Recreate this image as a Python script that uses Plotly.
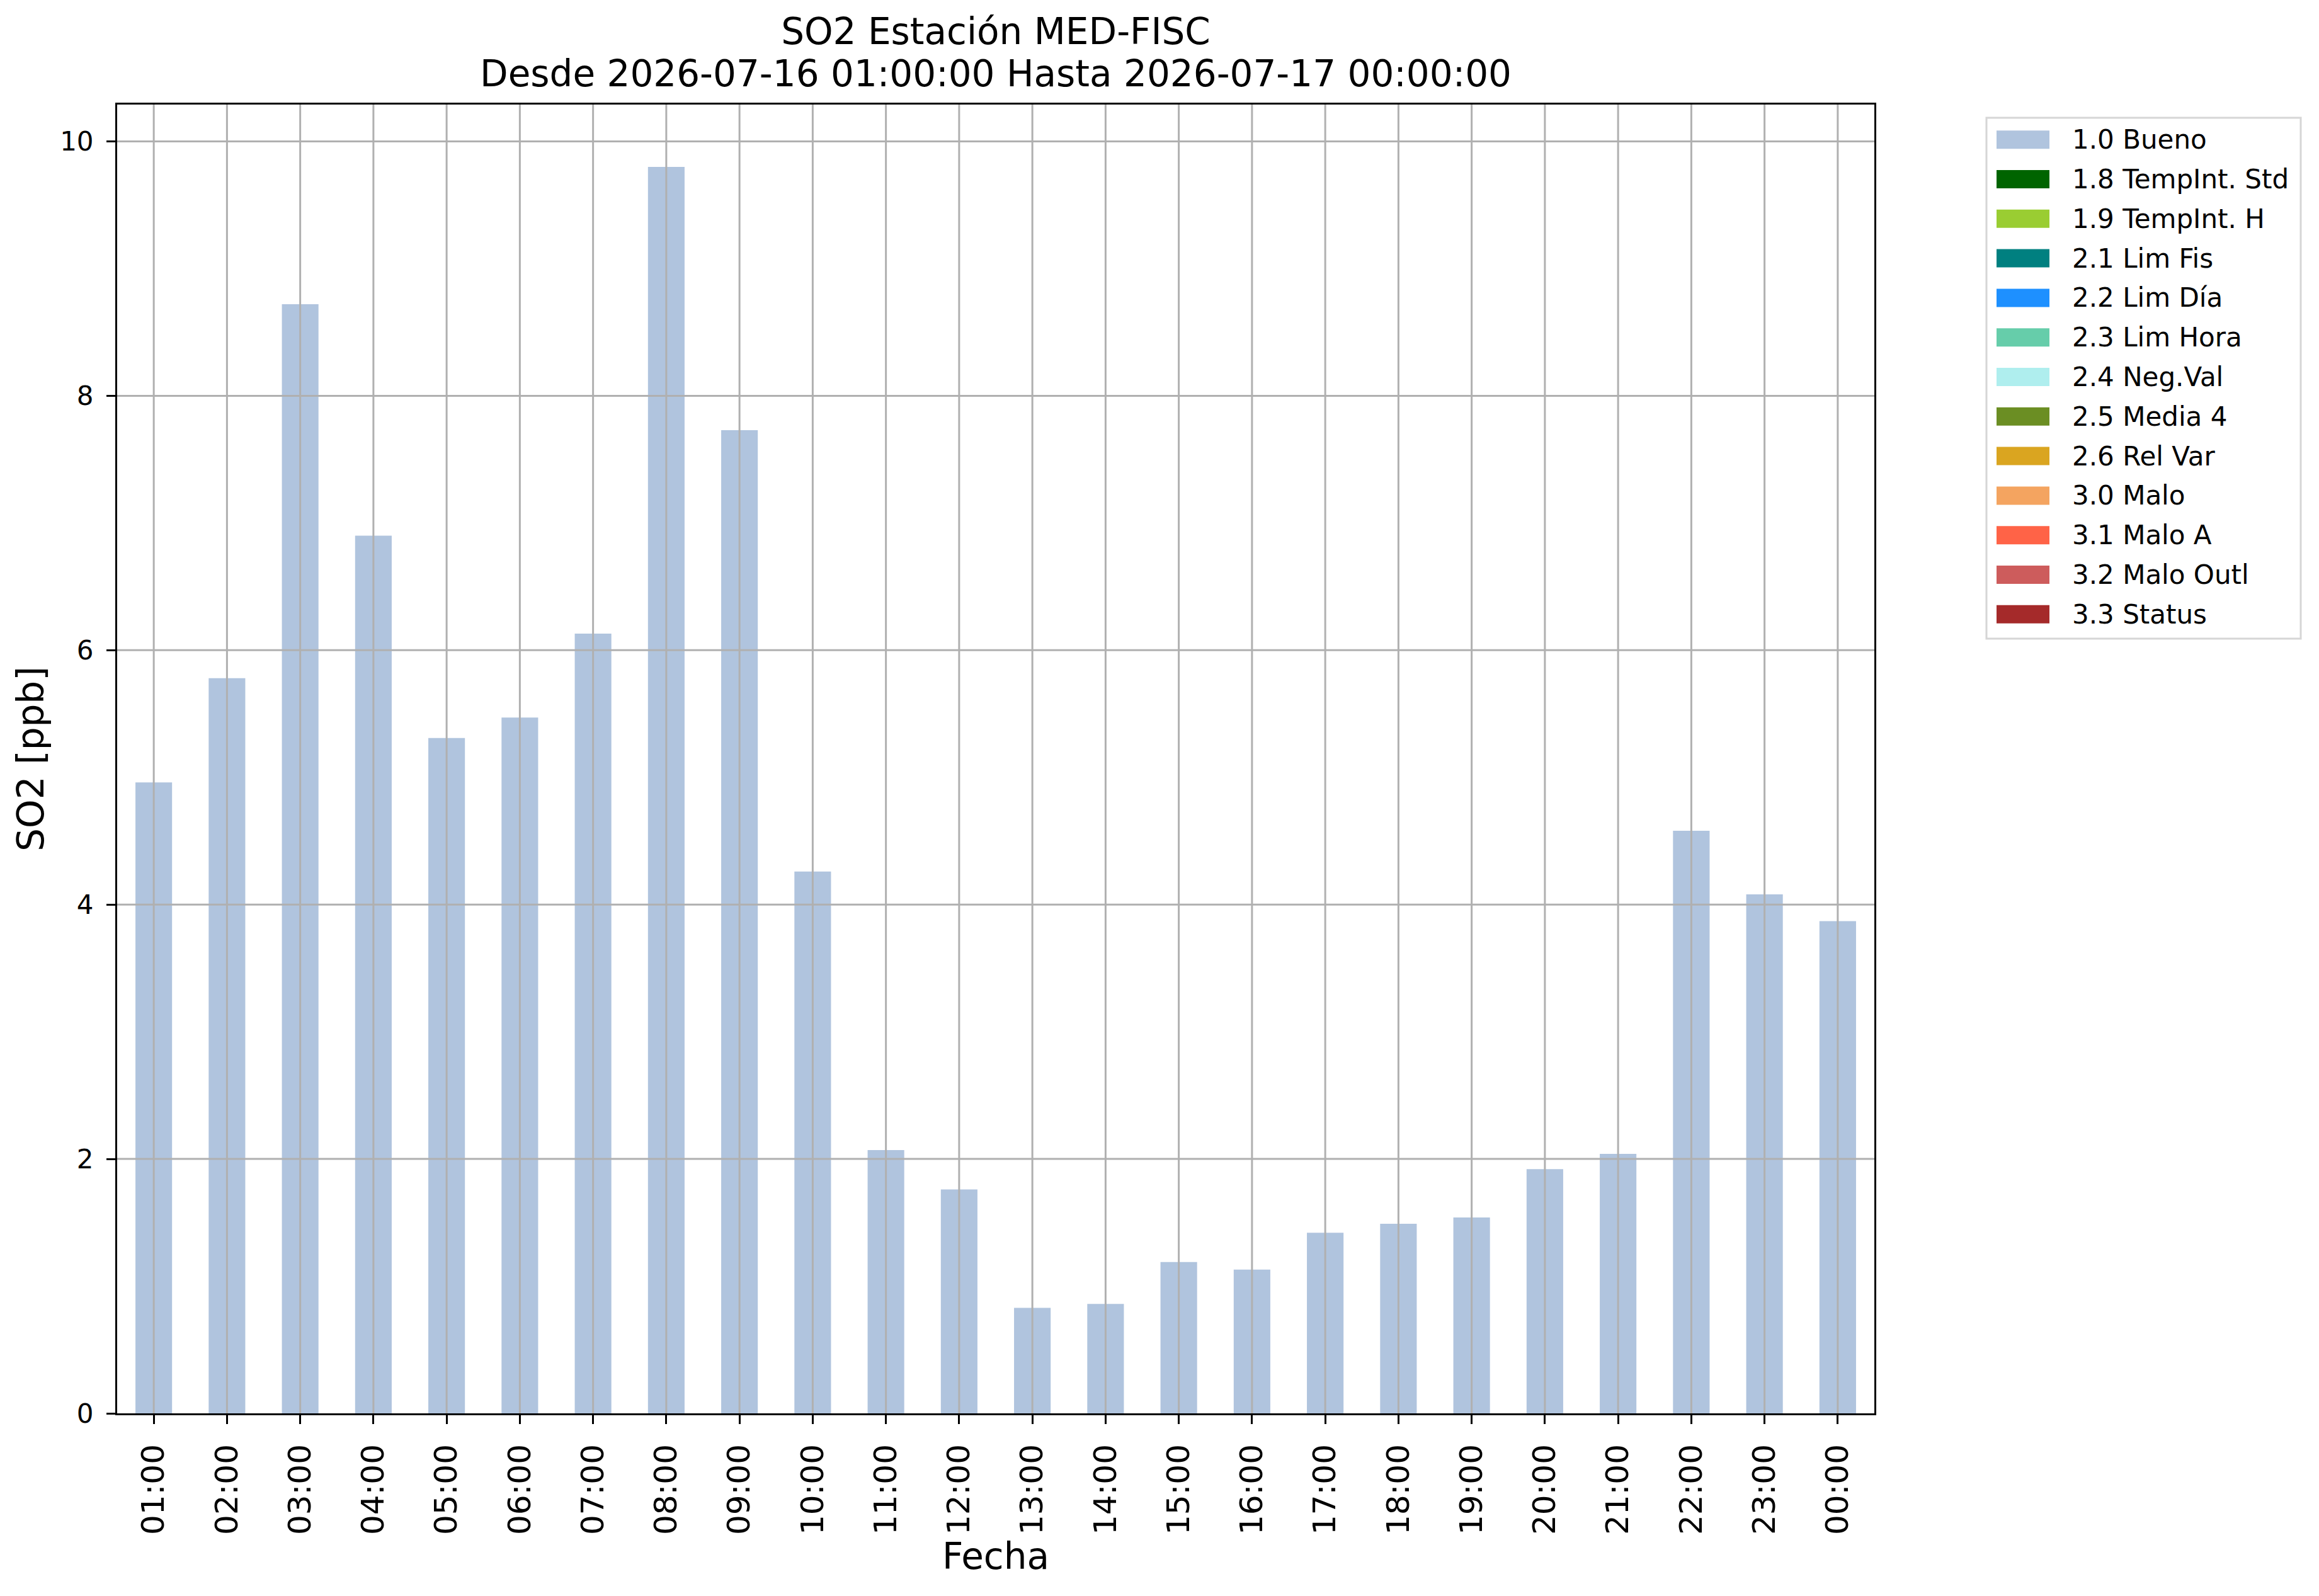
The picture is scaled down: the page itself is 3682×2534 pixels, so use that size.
import plotly.graph_objects as go

# ---------------- data ----------------
hours = ["01:00", "02:00", "03:00", "04:00", "05:00", "06:00", "07:00", "08:00",
         "09:00", "10:00", "11:00", "12:00", "13:00", "14:00", "15:00", "16:00",
         "17:00", "18:00", "19:00", "20:00", "21:00", "22:00", "23:00", "00:00"]
so2_bueno = [4.96, 5.78, 8.72, 6.90, 5.31, 5.47, 6.13, 9.80,
             7.73, 4.26, 2.07, 1.76, 0.83, 0.86, 1.19, 1.13,
             1.42, 1.49, 1.54, 1.92, 2.04, 4.58, 4.08, 3.87]
y_ticks = [0, 2, 4, 6, 8, 10]

legend_labels = ["1.0 Bueno", "1.8 TempInt. Std", "1.9 TempInt. H", "2.1 Lim Fis",
                 "2.2 Lim Día", "2.3 Lim Hora", "2.4 Neg.Val", "2.5 Media 4",
                 "2.6 Rel Var", "3.0 Malo", "3.1 Malo A", "3.2 Malo Outl", "3.3 Status"]
legend_colors = ["#B0C4DE", "#006400", "#9ACD32", "#008080", "#1E90FF", "#66CDAA",
                 "#AFEEEE", "#6B8E23", "#DAA520", "#F4A460", "#FF6347", "#CD5C5C",
                 "#A52A2A"]

title_line1 = "SO2 Estación MED-FISC"
title_line2 = "Desde 2026-07-16 01:00:00 Hasta 2026-07-17 00:00:00"

# ---------------- layout constants (page pixels) ----------------
PAGE_W, PAGE_H = 3682, 2534
OFF = 8                      # default body margin of the html page
W, H = PAGE_W - 2 * OFF, PAGE_H - 2 * OFF
L, R, T, B = 186, 2976, 166, 2244   # plot area in page pixels
FONT = "DejaVu Sans"
GRID = "#b0b0b0"


def px2x(px):
    return (px - L) / (R - L)


def py2y(py):
    return (B - py) / (B - T)


fig = go.Figure()
fig.add_trace(go.Bar(
    x=hours, y=so2_bueno, name=legend_labels[0],
    marker=dict(color=legend_colors[0], line=dict(width=0)),
    width=0.5, showlegend=False,
))

shapes = []
# grid lines drawn above the bars (as in the reference)
for h in hours:
    shapes.append(dict(type="line", xref="x", yref="paper", x0=h, x1=h, y0=0, y1=1,
                       line=dict(color=GRID, width=3), layer="above"))
for v in y_ticks[1:]:
    shapes.append(dict(type="line", xref="paper", yref="y", x0=0, x1=1, y0=v, y1=v,
                       line=dict(color=GRID, width=3), layer="above"))

# legend frame
shapes.append(dict(type="rect", xref="paper", yref="paper",
                   x0=px2x(3154), x1=px2x(3653), y0=py2y(1014), y1=py2y(187),
                   line=dict(color="#d6d6d6", width=3), fillcolor="white", layer="above"))
annotations = []
row0, step = 221.7, 62.8
for i, (lab, col) in enumerate(zip(legend_labels, legend_colors)):
    cy = row0 + step * i
    shapes.append(dict(type="rect", xref="paper", yref="paper",
                       x0=px2x(3170), x1=px2x(3254), y0=py2y(cy + 14.5), y1=py2y(cy - 14.5),
                       line=dict(width=0), fillcolor=col, layer="above"))
    annotations.append(dict(xref="paper", yref="paper", x=px2x(3288), y=py2y(cy),
                            text=lab, showarrow=False, xanchor="left", yanchor="middle",
                            font=dict(family=FONT, size=42, color="black")))

# second title line
annotations.append(dict(xref="paper", yref="paper", x=0.5, y=py2y(117),
                        text=title_line2, showarrow=False, xanchor="center", yanchor="middle",
                        font=dict(family=FONT, size=58, color="black")))

fig.update_layout(
    width=W, height=H,
    margin=dict(l=L - OFF, r=W - (R - OFF), t=T - OFF, b=H - (B - OFF), pad=0),
    paper_bgcolor="white", plot_bgcolor="white",
    font=dict(family=FONT, color="black"),
    title=dict(text=title_line1, x=0.5, xref="paper", xanchor="center",
               y=1 - (50 - OFF) / H, yref="container", yanchor="middle",
               font=dict(family=FONT, size=58, color="black")),
    shapes=shapes, annotations=annotations,
    bargap=0.5,
    showlegend=False,
)
fig.update_xaxes(
    type="category", range=[-0.5, len(hours) - 0.5],
    showgrid=False, zeroline=False,
    showline=True, linecolor="black", linewidth=3, mirror=True,
    ticks="outside", ticklen=14, tickwidth=3, tickcolor="black",
    tickangle=-90, tickfont=dict(family=FONT, size=50, color="black"),
    ticklabelstandoff=12,
    title=dict(text="Fecha", font=dict(family=FONT, size=58, color="black"), standoff=6),
)
fig.update_yaxes(
    range=[0, 10.29], tickvals=y_ticks, ticktext=[str(v) for v in y_ticks],
    showgrid=False, zeroline=False,
    showline=True, linecolor="black", linewidth=3, mirror=True,
    ticks="outside", ticklen=14, tickwidth=3, tickcolor="black",
    tickfont=dict(family=FONT, size=42, color="black"),
    ticklabelstandoff=12,
    title=dict(text="SO2 [ppb]", font=dict(family=FONT, size=58, color="black"), standoff=7),
)

fig.write_html("out.html")
